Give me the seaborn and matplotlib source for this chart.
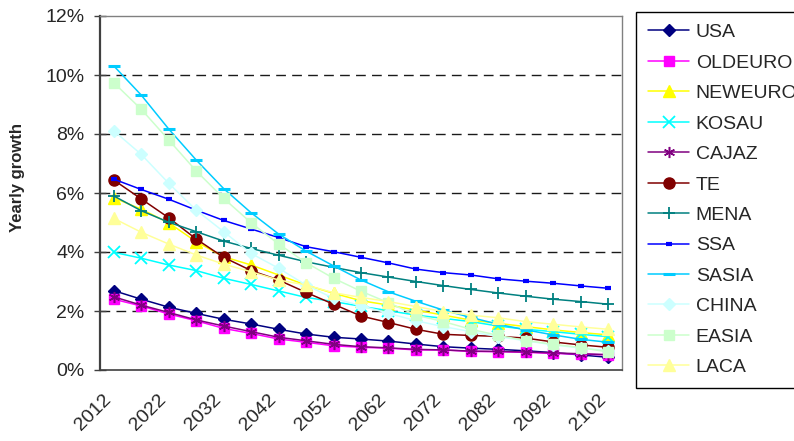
import numpy as np
import matplotlib
matplotlib.use("Agg")
import matplotlib.pyplot as plt
import seaborn as sns
from matplotlib.ticker import PercentFormatter, FixedLocator
from matplotlib.transforms import ScaledTranslation

# ---------------- data (yearly growth, %) ----------------
years = list(range(2012, 2103, 5))
tick_years = [str(y) for y in range(2012, 2103, 10)]

USA     = [2.69, 2.40, 2.13, 1.92, 1.72, 1.56, 1.38, 1.22, 1.11, 1.05, 0.98, 0.88, 0.79, 0.74, 0.70, 0.65, 0.59, 0.51, 0.43]
OLDEURO = [2.40, 2.17, 1.90, 1.67, 1.41, 1.24, 1.05, 0.94, 0.82, 0.77, 0.74, 0.68, 0.68, 0.63, 0.62, 0.60, 0.56, 0.54, 0.51]
NEWEURO = [5.84, 5.45, 4.99, 4.35, 3.84, 3.56, 3.22, 2.88, 2.60, 2.35, 2.20, 2.03, 1.86, 1.69, 1.58, 1.47, 1.36, 1.27, 1.19]
KOSAU   = [3.99, 3.79, 3.56, 3.37, 3.11, 2.90, 2.68, 2.46, 2.32, 2.16, 2.01, 1.86, 1.75, 1.64, 1.49, 1.38, 1.30, 1.21, 1.13]
CAJAZ   = [2.48, 2.20, 1.95, 1.70, 1.49, 1.30, 1.11, 0.99, 0.87, 0.79, 0.75, 0.70, 0.68, 0.64, 0.63, 0.61, 0.58, 0.55, 0.52]
TE      = [6.44, 5.80, 5.16, 4.44, 3.82, 3.37, 3.05, 2.63, 2.23, 1.83, 1.61, 1.38, 1.21, 1.17, 1.14, 1.08, 0.95, 0.85, 0.77]
MENA    = [5.90, 5.40, 5.01, 4.69, 4.37, 4.12, 3.89, 3.67, 3.48, 3.30, 3.15, 3.00, 2.86, 2.73, 2.61, 2.50, 2.40, 2.32, 2.23]
SSA     = [6.47, 6.12, 5.79, 5.42, 5.07, 4.78, 4.49, 4.18, 4.01, 3.82, 3.63, 3.42, 3.30, 3.22, 3.09, 3.01, 2.94, 2.85, 2.77]
SASIA   = [10.31, 9.32, 8.17, 7.12, 6.15, 5.33, 4.61, 4.03, 3.53, 3.05, 2.65, 2.33, 2.03, 1.78, 1.55, 1.36, 1.19, 1.04, 0.94]
CHINA   = [8.11, 7.31, 6.33, 5.42, 4.69, 3.95, 3.45, 2.88, 2.43, 2.18, 1.92, 1.67, 1.47, 1.30, 1.13, 0.99, 0.85, 0.74, 0.66]
EASIA   = [9.74, 8.84, 7.80, 6.75, 5.82, 4.99, 4.27, 3.64, 3.11, 2.67, 2.28, 1.86, 1.64, 1.38, 1.17, 1.00, 0.87, 0.76, 0.61]
LACA    = [5.14, 4.67, 4.27, 3.90, 3.59, 3.33, 3.05, 2.88, 2.62, 2.46, 2.32, 2.15, 1.98, 1.86, 1.77, 1.64, 1.55, 1.46, 1.38]

series_names = ["USA", "OLDEURO", "NEWEURO", "KOSAU", "CAJAZ", "TE",
                "MENA", "SSA", "SASIA", "CHINA", "EASIA", "LACA"]
series_values = [USA, OLDEURO, NEWEURO, KOSAU, CAJAZ, TE,
                 MENA, SSA, SASIA, CHINA, EASIA, LACA]

# ---------------- styles ----------------
colors = ["#000080", "#FF00FF", "#FFFF00", "#00FFFF", "#800080", "#800000",
          "#008080", "#0000FF", "#00CCFF", "#CCFFFF", "#CCFFCC", "#FFFF99"]
markers = ["D", "s", "^", "x", (6, 2, 0), "o", "+", "_", "_", "D", "s", "^"]
msizes = [6.5, 7, 8, 8, 8, 8, 9, 5, 9, 6.5, 7, 8]
mews = [1, 1, 1, 1.3, 1.1, 1, 1.3, 3, 2.2, 1, 1, 1]

sns.set_style("white")
plt.rcParams["font.family"] = ["Liberation Sans", "DejaVu Sans"]

FS = 14

fig = plt.figure(figsize=(7.94, 4.41), dpi=100)
ax = fig.add_axes([100 / 794, 71 / 441, 522 / 794, 354 / 441])

x = np.arange(len(years))
for name, vals, c, m, ms, mew in zip(series_names, series_values, colors, markers, msizes, mews):
    sns.lineplot(x=x, y=vals, ax=ax, color=c, marker=m, markersize=ms,
                 markerfacecolor=c, markeredgecolor=c, markeredgewidth=mew,
                 linewidth=1.1, label=name, zorder=3)

# ---------------- axes ----------------
ax.set_xlim(-0.5, len(years) - 0.5)
ax.set_ylim(0, 12)
ax.yaxis.set_major_locator(FixedLocator([0, 2, 4, 6, 8, 10, 12]))
ax.yaxis.set_major_formatter(PercentFormatter(xmax=100, decimals=0))

ax.set_xticks(x[::2])
ax.set_xticklabels(tick_years)
ax.xaxis.set_minor_locator(FixedLocator(np.arange(-0.5, len(years), 1.0)))
ax.tick_params(axis="x", which="major", length=0, pad=15, labelsize=FS)
ax.tick_params(axis="x", which="minor", direction="out", length=5, width=1, color="#404040")
ax.tick_params(axis="y", which="major", direction="inout", length=9, width=1,
               color="#404040", labelsize=FS, pad=6.5)
ax.tick_params(left=True, bottom=True)

for lab in ax.get_xticklabels():
    lab.set_rotation(45)
    lab.set_ha("right")
    lab.set_va("top")
    lab.set_rotation_mode("anchor")
    lab.set_transform(lab.get_transform() + ScaledTranslation(-11 / 100, 0, fig.dpi_scale_trans))

ax.yaxis.grid(True, linestyle=(0, (7, 4.5)), color="#1a1a1a", linewidth=1)
ax.xaxis.grid(False)
ax.set_axisbelow(True)
gl = ax.yaxis.get_gridlines()
gl[0].set_visible(False)
gl[-1].set_visible(False)

for side in ["top", "right"]:
    ax.spines[side].set_color("#808080")
    ax.spines[side].set_linewidth(1)
ax.spines["left"].set_color("#404040")
ax.spines["left"].set_linewidth(1.6)
ax.spines["bottom"].set_color("#404040")
ax.spines["bottom"].set_linewidth(1.2)

ax.set_xlabel("")
ax.set_ylabel("Yearly growth", fontsize=12, fontweight="bold")
ax.yaxis.set_label_coords(-0.144, 0.545)

leg = ax.legend(loc="upper left", bbox_to_anchor=(636 / 794, 1 - 12 / 441),
                bbox_transform=fig.transFigure, frameon=True, fancybox=False,
                edgecolor="black", framealpha=1, fontsize=FS, handlelength=2.15,
                handletextpad=0.32, labelspacing=0.66, borderpad=0.6, borderaxespad=0)
leg.get_frame().set_linewidth(1)

fig.savefig("out.png", dpi=100)
